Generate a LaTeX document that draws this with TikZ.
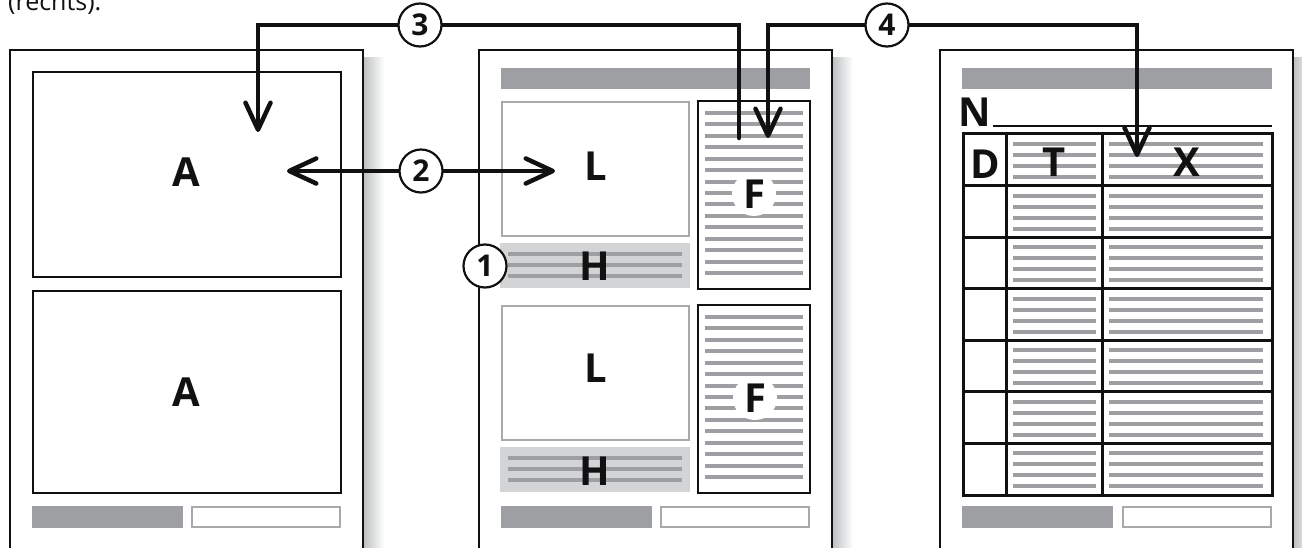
\documentclass[tikz,border=0pt]{standalone}
\usepackage{fontspec}
\setmainfont{Open Sans}
\usetikzlibrary{arrows.meta}

\definecolor{bargray}{HTML}{9D9FA2}
\definecolor{boxgray}{HTML}{D3D4D6}
\definecolor{framegray}{HTML}{A7A9AC}
\definecolor{shadowgray}{HTML}{BCBEC0}
\definecolor{inkblack}{HTML}{111111}

\tikzset{
  pageframe/.style={draw=inkblack, line width=2.4pt, fill=white},
  pageshadow/.style={left color=shadowgray, right color=white, draw=none},
  headbar/.style={fill=bargray, draw=none},
  greybox/.style={draw=framegray, line width=2pt},
  textline/.style={draw=bargray, line width=4pt},
  bigletter/.style={text=inkblack, font=\fontsize{40}{42}\selectfont\bfseries, inner sep=0pt},
  numball/.style={circle, draw=inkblack, line width=2.2pt, fill=white, minimum size=43pt,
    inner sep=0pt, text=inkblack, font=\fontsize{30}{31}\selectfont\bfseries},
  flow/.style={draw=inkblack, line width=4.5pt, line cap=round,
    >={Straight Barb[length=27pt,width=25pt,round]}},
}

\begin{document}
\begin{tikzpicture}[x=1pt, y=-1pt]
  \clip (0,0) rectangle (1302,548);
  \fill[white] (0,0) rectangle (1302,548);
  % caption rest above the pages
  \node[anchor=base west, inner sep=0pt, text=inkblack, font=\fontsize{25}{26}\selectfont] (caption) at (8,11) {(rechts).};

  % page 1: two pictures
  \shade[pageshadow] (363,58) rectangle (384,560);
  \draw[pageframe] (10,50) rectangle (363,560);
  \draw[draw=inkblack, line width=2.4pt] (33,72) rectangle (341,277);
  \draw[draw=inkblack, line width=2.4pt] (33,291) rectangle (341,493);
  \node[bigletter] (a1) at (186,172) {A};
  \node[bigletter] (a2) at (186,392) {A};
  \fill[headbar] (32,506) rectangle (183,528);
  \draw[greybox] (192,507) rectangle (340,527);

  % page 2: two blocks of L, H and F
  \shade[pageshadow] (832,58) rectangle (853,560);
  \draw[pageframe] (479,50) rectangle (832,560);
  \fill[headbar] (501,68) rectangle (810,89);
  \foreach \dy in {0,204} {
    \draw[greybox, line width=1.7pt] (502,102+\dy) rectangle (689,236+\dy);
    \fill[boxgray] (500,243+\dy) rectangle (690,288+\dy);
    \foreach \ly in {254,265,276}
      \draw[textline] (508,\ly+\dy) -- (682,\ly+\dy);
    \draw[draw=inkblack, line width=2.4pt] (698,101+\dy) rectangle (810,289+\dy);
    \foreach \k in {0,...,14}
      \draw[textline] (705,113+\dy+11.43*\k) -- (803,113+\dy+11.43*\k);
  }
  \fill[headbar] (501,506) rectangle (652,528);
  \draw[greybox] (661,507) rectangle (809,527);
  \node[bigletter] (l1) at (596,166) {L};
  \node[bigletter] (l2) at (596,368) {L};
  \node[bigletter] (h1) at (595,266) {H};
  \node[bigletter] (h2) at (595,471) {H};
  \node[bigletter, circle, fill=white, minimum size=44pt] (f1) at (754,194) {F};
  \node[bigletter, circle, fill=white, minimum size=44pt] (f2) at (755,398) {F};

  % page 3: table
  \shade[pageshadow] (1293,58) rectangle (1314,560);
  \draw[pageframe] (940,50) rectangle (1293,560);
  \fill[headbar] (962,68) rectangle (1272,89);
  \node[bigletter] (n) at (975,112) {N};
  \draw[draw=inkblack, line width=1.6pt] (993,126) -- (1272,126);
  \foreach \r in {0,...,6} {
    \foreach \ly in {10,21,32,43} {
      \draw[textline] (1013,134+51.57*\r+\ly) -- (1096,134+51.57*\r+\ly);
      \draw[textline] (1109,134+51.57*\r+\ly) -- (1263,134+51.57*\r+\ly);
    }
  }
  \foreach \r in {1,...,6}
    \draw[draw=inkblack, line width=3pt] (963,134+51.57*\r) -- (1272,134+51.57*\r);
  \draw[draw=inkblack, line width=3pt] (963,134) rectangle (1272,495);
  \draw[draw=inkblack, line width=3pt] (1006,134) -- (1006,495);
  \draw[draw=inkblack, line width=3pt] (1102,134) -- (1102,495);
  \node[bigletter] (d) at (985,164) {D};
  \node[bigletter] (t) at (1054,162) {T};
  \node[bigletter] (x) at (1187,162) {X};
  \fill[headbar] (962,506) rectangle (1113,528);
  \draw[greybox] (1123,507) rectangle (1271,527);

  % arrows
  \coordinate (tipA) at (287,171);
  \coordinate (tipL) at (555,171);
  \coordinate (startF) at (739,138);
  \coordinate (tipA3) at (258,132);
  \coordinate (tipF) at (768,138);
  \coordinate (tipX) at (1137,157);
  \draw[flow, <->] (tipA) -- (tipL);
  \draw[flow, ->] (startF) |- (tipA3 |- 0,25) -- (tipA3);
  \draw[flow, <->] (tipF) |- (tipX |- 0,25) -- (tipX);

  % numbers
  \node[numball] (n1) at (485,266) {1};
  \node[numball] (n2) at (421,171) {2};
  \node[numball] (n3) at (420,25) {3};
  \node[numball] (n4) at (887,25) {4};
\end{tikzpicture}
\end{document}
